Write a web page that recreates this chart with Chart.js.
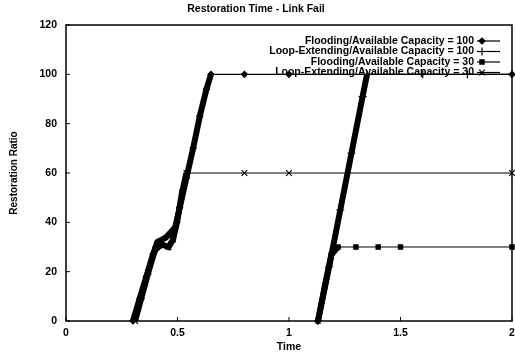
<!DOCTYPE html>
<html>
<head>
<meta charset="utf-8">
<script src="https://cdn.jsdelivr.net/npm/chart.js@4/dist/chart.umd.min.js"></script>
<style>
  html, body { margin: 0; padding: 0; background: #fff; }
</style>
</head>
<body>
<canvas id="c" width="515" height="357"></canvas>
<script>
(function () {
  "use strict";

  var chartTitle = "Restoration Time - Link Fail";
  var xTicks = [0, 0.5, 1, 1.5, 2];
  var yTicks = [0, 20, 40, 60, 80, 100, 120];

  var seriesNames = [
    "Flooding/Available Capacity = 100",
    "Loop-Extending/Available Capacity = 100",
    "Flooding/Available Capacity = 30",
    "Loop-Extending/Available Capacity = 30"
  ];

  var flood100Time  = [0.30, 0.33, 0.36, 0.39, 0.41, 0.45, 0.49, 0.51, 0.54, 0.57, 0.60, 0.63, 0.65, 0.80, 1.00, 2.00];
  var flood100Ratio = [0, 9, 18, 27, 32, 34, 38, 46, 58, 70, 83, 94, 100, 100, 100, 100];

  var loop100Time  = [1.13, 1.18, 1.23, 1.28, 1.33, 1.35, 1.60, 1.80, 2.00];
  var loop100Ratio = [0, 22, 45, 68, 91, 100, 100, 100, 100];

  var flood30Time  = [1.13, 1.16, 1.19, 1.22, 1.30, 1.40, 1.50, 2.00];
  var flood30Ratio = [0, 14, 27, 30, 30, 30, 30, 30];

  var loop30Time  = [0.31, 0.34, 0.37, 0.40, 0.43, 0.46, 0.48, 0.50, 0.52, 0.54, 0.80, 1.00, 2.00];
  var loop30Ratio = [0, 10, 20, 29, 31, 30, 33, 41, 52, 60, 60, 60, 60];

  var markers = ["rectRot", "cross", "rect", "crossRot"];
  var markerSize = [3, 4, 3, 4];

  var FONT = "'Liberation Sans', Arial, Helvetica, sans-serif";
  var font = { family: FONT, size: 10.5, weight: "bold" };

  function pts(xs, ys) {
    return xs.map(function (x, i) { return { x: x, y: ys[i] }; });
  }

  function makeSet(i, xs, ys) {
    return {
      label: seriesNames[i],
      data: pts(xs, ys),
      borderColor: "#000",
      backgroundColor: "#000",
      borderWidth: 1,
      pointStyle: markers[i],
      pointRadius: markerSize[i],
      pointBorderWidth: 1.2,
      pointBorderColor: "#000",
      pointBackgroundColor: "#000",
      tension: 0,
      clip: false,
      segment: {
        // the rising parts are drawn as a dense run of points in the picture
        borderWidth: function (ctx) { return ctx.p0.parsed.y !== ctx.p1.parsed.y ? 6 : 1.2; }
      }
    };
  }

  var framePlugin = {
    id: "frame",
    afterDatasetsDraw: function (chart) {
      var ctx = chart.ctx, a = chart.chartArea;
      var xs = chart.scales.x, ys = chart.scales.y;
      ctx.save();
      ctx.strokeStyle = "#000";
      ctx.lineWidth = 1.5;
      ctx.strokeRect(a.left, a.top, a.right - a.left, a.bottom - a.top);

      ctx.lineWidth = 1;
      ctx.beginPath();
      yTicks.forEach(function (v) {
        var p = ys.getPixelForValue(v);
        ctx.moveTo(a.left, p); ctx.lineTo(a.left + 4, p);
      });
      xTicks.forEach(function (v) {
        var p = xs.getPixelForValue(v);
        ctx.moveTo(p, a.bottom); ctx.lineTo(p, a.bottom - 4);
      });
      ctx.stroke();

      // gnuplot style key: text then sample, top right inside the frame
      ctx.font = "bold 10.5px " + FONT;
      ctx.textAlign = "right";
      ctx.textBaseline = "middle";
      chart.data.datasets.forEach(function (ds, i) {
        var y = a.top + 16 + i * 10.5;
        ctx.fillStyle = "#000";
        ctx.fillText(ds.label, a.right - 38, y);
        ctx.lineWidth = 1.2;
        ctx.beginPath();
        ctx.moveTo(a.right - 35, y); ctx.lineTo(a.right - 12, y);
        ctx.stroke();
        Chart.helpers.drawPoint(ctx, {
          pointStyle: markers[i], radius: markerSize[i], rotation: 0, borderWidth: 1.2
        }, a.right - 30, y);
      });
      ctx.restore();
    }
  };

  new Chart(document.getElementById("c").getContext("2d"), {
    type: "line",
    data: {
      datasets: [
        makeSet(0, flood100Time, flood100Ratio),
        makeSet(1, loop100Time, loop100Ratio),
        makeSet(2, flood30Time, flood30Ratio),
        makeSet(3, loop30Time, loop30Ratio)
      ]
    },
    options: {
      responsive: false,
      animation: false,
      layout: { autoPadding: false, padding: { left: 0, right: 3, top: 0, bottom: 0 } },
      plugins: {
        legend: { display: false },
        tooltip: { enabled: false },
        title: {
          display: true, text: chartTitle, color: "#000",
          font: { family: FONT, size: 10.5, weight: "bold" },
          padding: { top: 3, bottom: 9.4 }
        }
      },
      scales: {
        x: {
          type: "linear", min: 0, max: 2,
          afterBuildTicks: function (s) { s.ticks = xTicks.map(function (v) { return { value: v }; }); },
          ticks: { color: "#000", font: font, padding: 6, maxRotation: 0, autoSkip: false,
                   callback: function (v) { return String(v); } },
          grid: { display: false, drawTicks: false },
          border: { display: false },
          title: { display: true, text: "Time", color: "#000", font: font, padding: { top: 0, bottom: 4 } },
          afterFit: function (s) { s.height = 36; s.paddingRight = 0; }
        },
        y: {
          type: "linear", min: 0, max: 120,
          afterBuildTicks: function (s) { s.ticks = yTicks.map(function (v) { return { value: v }; }); },
          ticks: { color: "#000", font: font, padding: 9, autoSkip: false },
          grid: { display: false, drawTicks: false },
          border: { display: false },
          title: { display: true, text: "Restoration Ratio", color: "#000",
                   font: { family: FONT, size: 10, weight: "bold" }, padding: { top: 8, bottom: 0 } },
          afterFit: function (s) { s.width = 66; }
        }
      }
    },
    plugins: [framePlugin]
  });
})();
</script>
</body>
</html>
